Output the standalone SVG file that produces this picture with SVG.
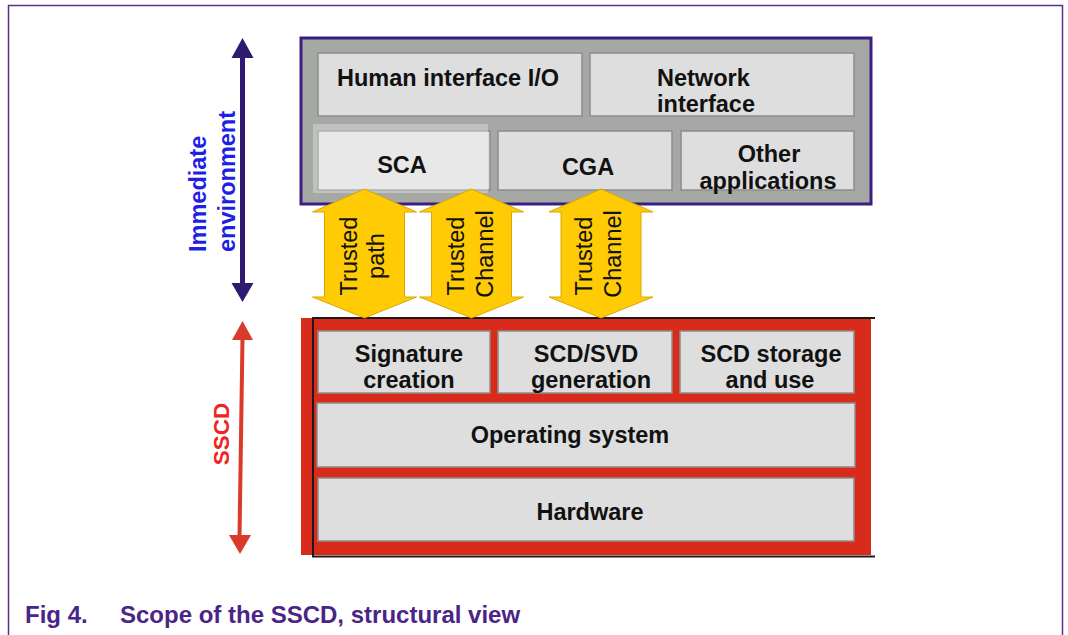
<svg xmlns="http://www.w3.org/2000/svg" width="1068" height="635" viewBox="0 0 1068 635">
<style>
text{font-family:"Liberation Sans",Arial,sans-serif}
.box{fill:#dedede;stroke:#8c8c8c;stroke-width:1.5}
.lbl{font-size:23.5px;font-weight:bold;fill:#111;text-anchor:middle}
.tr{font-size:23.5px;fill:#111;text-anchor:middle}
.yarrow{fill:#ffcb05;stroke:#d9a800;stroke-width:1}
.cap{font-size:24px;font-weight:bold;fill:#4a2587}
</style>
<rect width="1068" height="635" fill="#fff"/>
<path d="M8.5,640 V5.5 H1062.5 V640" fill="none" stroke="#5c2e91" stroke-width="1.5"/>

<g id="immediate-environment">
<rect x="301" y="38" width="570" height="166" fill="#a5a8a5" stroke="#3a1f80" stroke-width="3"/>
<g id="human-io"><rect class="box" x="318" y="53" width="264" height="63"/><text class="lbl" x="448" y="86">Human interface I/O</text></g>
<g id="network"><rect class="box" x="590" y="53" width="264" height="63"/><text class="lbl" x="657" y="86" style="text-anchor:start">Network</text><text class="lbl" x="657" y="112" style="text-anchor:start">interface</text></g>
<g id="sca"><rect class="box" x="318" y="131" width="172" height="59"/><rect x="313" y="124" width="175" height="69" fill="#fff" fill-opacity="0.3"/><text class="lbl" x="402" y="173">SCA</text></g>
<g id="cga"><rect class="box" x="498" y="131" width="174" height="59"/><text class="lbl" x="588" y="175">CGA</text></g>
<g id="other"><rect class="box" x="681" y="131" width="173" height="59"/><text class="lbl" x="769" y="162">Other</text><text class="lbl" x="768" y="189">applications</text></g>
</g>

<g id="sscd">
<rect x="301" y="318" width="570" height="237" fill="#d92b1c"/>
<path d="M875,318 H313 V556.5 H875" fill="none" stroke="#1a1a1a" stroke-width="2"/>
<g id="sig"><rect class="box" x="318" y="331" width="172" height="62"/><text class="lbl" x="409" y="362">Signature</text><text class="lbl" x="409" y="388">creation</text></g>
<g id="gen"><rect class="box" x="498" y="331" width="174" height="62"/><text class="lbl" x="586" y="362">SCD/SVD</text><text class="lbl" x="591" y="388">generation</text></g>
<g id="storage"><rect class="box" x="680" y="331" width="174" height="62"/><text class="lbl" x="771" y="362">SCD storage</text><text class="lbl" x="770" y="388">and use</text></g>
<g id="os"><rect class="box" x="317" y="403" width="538" height="64"/><text class="lbl" x="570" y="443">Operating system</text></g>
<g id="hw"><rect class="box" x="318" y="478" width="536" height="63"/><text class="lbl" x="590" y="520">Hardware</text></g>
</g>

<g id="connectors">
<g id="trusted-path">
<polygon class="yarrow" points="364.5,189 416.5,212 404.5,212 404.5,297 416.5,297 364.5,318 312.5,297 324.5,297 324.5,212 312.5,212"/>
<text class="tr" transform="translate(357,256) rotate(-90)">Trusted</text>
<text class="tr" transform="translate(384,256) rotate(-90)">path</text>
</g>
<g id="trusted-channel-1">
<polygon class="yarrow" points="471.5,189 523.5,212 511.5,212 511.5,297 523.5,297 471.5,318 419.5,297 431.5,297 431.5,212 419.5,212"/>
<text class="tr" transform="translate(464,256) rotate(-90)">Trusted</text>
<text class="tr" transform="translate(493,254) rotate(-90)">Channel</text>
</g>
<g id="trusted-channel-2">
<polygon class="yarrow" points="601,189 653,212 641,212 641,297 653,297 601,318 549,297 561,297 561,212 549,212"/>
<text class="tr" transform="translate(592,256) rotate(-90)">Trusted</text>
<text class="tr" transform="translate(621,254) rotate(-90)">Channel</text>
</g>
<g id="env-arrow">
<line x1="242.5" y1="55" x2="242.5" y2="285" stroke="#2e1a70" stroke-width="5"/>
<polygon points="242.5,38 253.5,58 231.5,58" fill="#2e1a70"/>
<polygon points="242.5,302 253.5,283 231.5,283" fill="#2e1a70"/>
</g>
<g id="sscd-arrow">
<line x1="242.5" y1="338" x2="239.5" y2="537" stroke="#d93a2a" stroke-width="4"/>
<polygon points="242.5,321 253,340 232,340" fill="#d93a2a"/>
<polygon points="240,554 251,535 229,535" fill="#d93a2a"/>
</g>
</g>

<text transform="translate(206,252) rotate(-90)" style="font-size:23.5px;font-weight:bold;fill:#1f1fe8">Immediate</text>
<text transform="translate(235,252) rotate(-90)" style="font-size:23.5px;font-weight:bold;fill:#1f1fe8">environment</text>
<text transform="translate(229,434) rotate(-90)" style="font-size:22.5px;font-weight:bold;fill:#f02222;text-anchor:middle">SSCD</text>

<text class="cap" x="25" y="623">Fig 4.</text>
<text class="cap" x="120" y="623">Scope of the SSCD, structural view</text>
</svg>
